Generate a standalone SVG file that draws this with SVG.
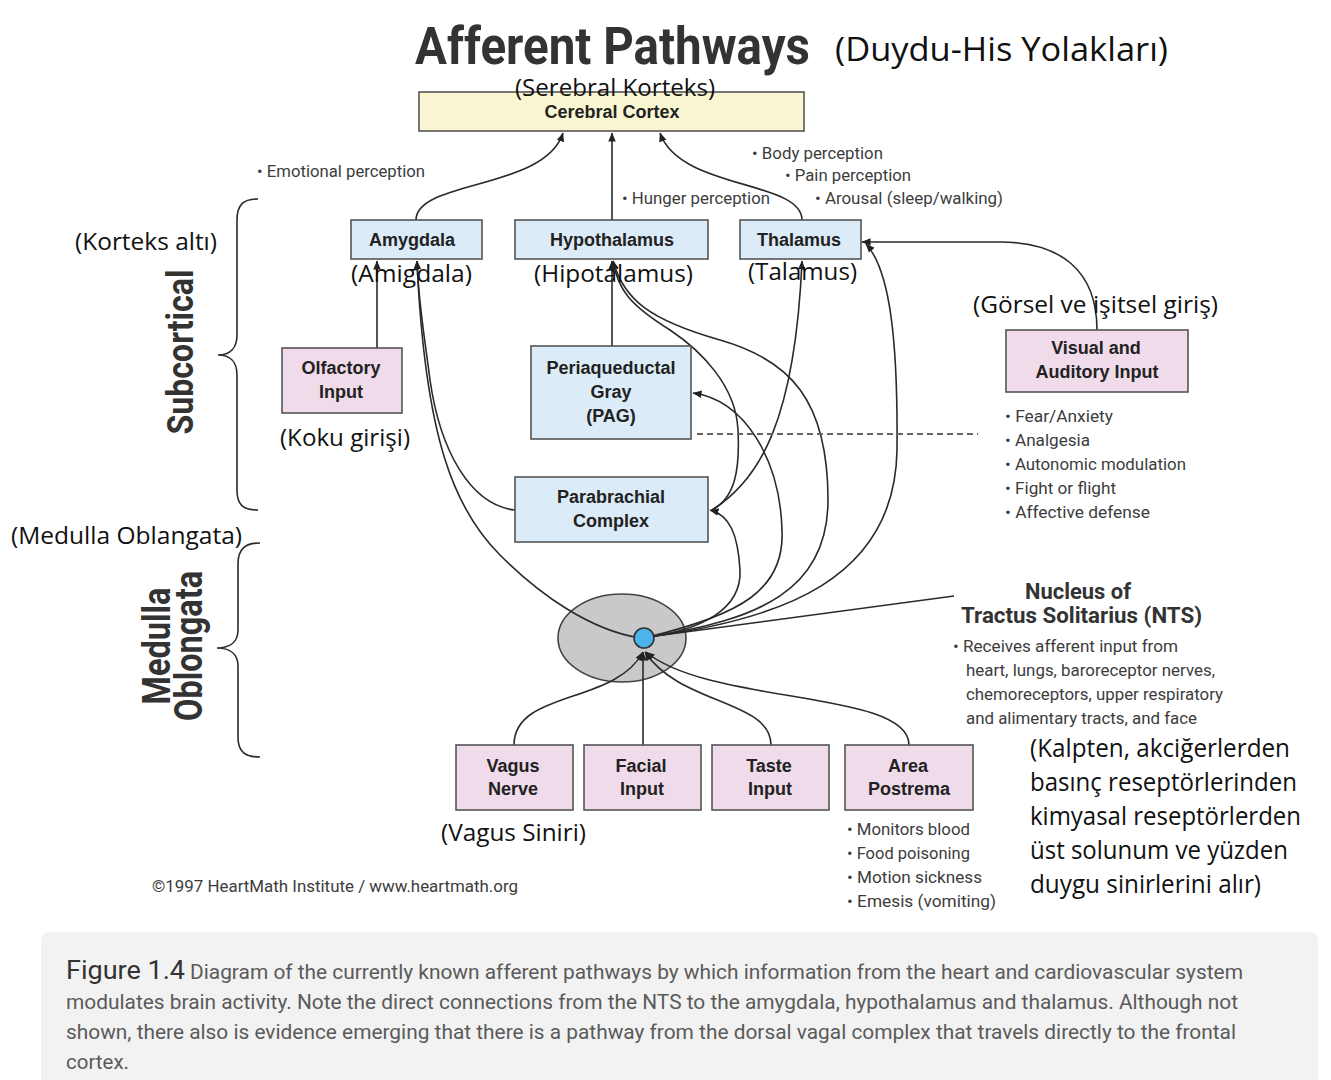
<svg xmlns="http://www.w3.org/2000/svg" width="1331" height="1080" viewBox="0 0 1331 1080">
<defs>
<marker id="ah" viewBox="0 0 10 10" refX="9.5" refY="5" markerWidth="9" markerHeight="9" orient="auto" markerUnits="userSpaceOnUse"><path d="M0,0.8 L10,5 L0,9.2 z" fill="#222"/></marker>
<style>
.blue{fill:#dcebf8;stroke:#555;stroke-width:1.6}
.pink{fill:#f0dbea;stroke:#555;stroke-width:1.6}
.nl{font-family:"Liberation Sans",Arial,sans-serif;font-weight:bold;font-size:18px;fill:#222;text-anchor:middle}
.tr{font-family:"Open Sans","Noto Sans",sans-serif;font-size:24px;fill:#111}
.g{font-family:Roboto,"Liberation Sans",sans-serif;font-size:17px;fill:#3c3c3c}
.c{fill:none;stroke:#2a2a2a;stroke-width:1.6}
.cap{font-family:Roboto,"Liberation Sans",sans-serif;font-size:19.5px;fill:#5a5a5a}
</style>
</defs>
<rect width="1331" height="1080" fill="#fff"/>

<!-- Title -->
<text x="415" y="64" font-family="Roboto,'Liberation Sans',sans-serif" font-weight="bold" font-size="51" fill="#333" textLength="395" lengthAdjust="spacingAndGlyphs">Afferent Pathways</text>
<text x="835" y="61" font-family="'Open Sans','Noto Sans',sans-serif" font-size="33" fill="#111" textLength="333" lengthAdjust="spacingAndGlyphs">(Duydu-His Yolakları)</text>

<!-- Side brackets and labels -->
<g id="side">
<path class="c" stroke="#555" d="M258,199 C243,199 237,205 237,220 L237,335 C237,348 230,355 218,355 C230,355 237,362 237,375 L237,490 C237,505 243,510 258,510"/>
<path class="c" stroke="#555" d="M260,543 C245,543 238,549 238,564 L238,630 C238,642 230,648 217,648 C230,648 238,654 238,666 L238,737 C238,752 245,757 260,757"/>
<text transform="translate(193,352) rotate(-90)" text-anchor="middle" font-family="Roboto,'Liberation Sans',sans-serif" font-weight="bold" font-size="36" fill="#333" textLength="165" lengthAdjust="spacingAndGlyphs">Subcortical</text>
<text transform="translate(170,646) rotate(-90)" text-anchor="middle" font-family="Roboto,'Liberation Sans',sans-serif" font-weight="bold" font-size="38" fill="#333" textLength="117" lengthAdjust="spacingAndGlyphs">Medulla</text>
<text transform="translate(202,646) rotate(-90)" text-anchor="middle" font-family="Roboto,'Liberation Sans',sans-serif" font-weight="bold" font-size="38" fill="#333" textLength="150" lengthAdjust="spacingAndGlyphs">Oblongata</text>
</g>

<!-- NTS ellipse (background) -->
<g id="nts">
<ellipse cx="622" cy="638" rx="64" ry="44" fill="#c9c9c9" stroke="#444" stroke-width="1.6"/>
<text x="1078" y="599" text-anchor="middle" font-family="Roboto,'Liberation Sans',sans-serif" font-weight="bold" font-size="22" fill="#333" textLength="106" lengthAdjust="spacingAndGlyphs">Nucleus of</text>
<text x="961" y="623" font-family="Roboto,'Liberation Sans',sans-serif" font-weight="bold" font-size="22" fill="#333" textLength="241" lengthAdjust="spacingAndGlyphs">Tractus Solitarius (NTS)</text>
<text class="g" x="953" y="652" textLength="225" lengthAdjust="spacingAndGlyphs">• Receives afferent input from</text>
<text class="g" x="966" y="676" textLength="249" lengthAdjust="spacingAndGlyphs">heart, lungs, baroreceptor nerves,</text>
<text class="g" x="966" y="700" textLength="257" lengthAdjust="spacingAndGlyphs">chemoreceptors, upper respiratory</text>
<text class="g" x="966" y="724" textLength="231" lengthAdjust="spacingAndGlyphs">and alimentary tracts, and face</text>
</g>

<!-- Connectors -->
<g id="connectors">
<path class="c" d="M416,220 C416,180 545,190 563,133" marker-end="url(#ah)"/>
<path class="c" d="M612,220 L612,133" marker-end="url(#ah)"/>
<path class="c" d="M802,220 C802,180 680,190 660,133" marker-end="url(#ah)"/>
<path class="c" d="M377,348 L377,261" marker-end="url(#ah)"/>
<path class="c" d="M515,510 C470,505 440,450 430,380 C425,340 418,300 417,261" marker-end="url(#ah)"/>
<path class="c" d="M640,638 C590,630 540,595 500,555 C455,510 425,440 417,261" marker-end="url(#ah)"/>
<path class="c" d="M612,346 L612,261" marker-end="url(#ah)"/>
<path class="c" d="M712,510 C735,498 740,470 738,430 C736,385 700,350 670,330 C630,305 618,290 613,261" marker-end="url(#ah)"/>
<path class="c" d="M648,637 C760,620 828,590 828,500 C828,400 790,360 720,340 C650,320 624,300 613,261" marker-end="url(#ah)"/>
<path class="c" d="M712,510 C760,480 795,420 802,261" marker-end="url(#ah)"/>
<path class="c" d="M648,637 C700,630 742,610 740,570 C738,535 730,515 710,510" marker-end="url(#ah)"/>
<path class="c" d="M648,637 C740,615 785,590 782,530 C780,460 745,400 693,393" marker-end="url(#ah)"/>
<path class="c" d="M648,637 C780,620 895,580 897,450 C898,340 890,270 866,244" marker-end="url(#ah)"/>
<path class="c" d="M1097,330 C1097,270 1060,242 1000,242 L862,242" marker-end="url(#ah)"/>
<path class="c" d="M648,637 L954,596"/>
<path d="M697,434 L978,434" fill="none" stroke="#666" stroke-width="1.8" stroke-dasharray="6,4"/>
<path class="c" d="M514,745 C514,690 615,705 643,652" marker-end="url(#ah)"/>
<path class="c" d="M643,745 L643,652" marker-end="url(#ah)"/>
<path class="c" d="M771,745 C771,700 680,705 645,652" marker-end="url(#ah)"/>
<path class="c" d="M909,745 C909,690 710,705 646,652" marker-end="url(#ah)"/>
</g>

<g id="nts-dot">
<circle cx="644" cy="638" r="10" fill="#4cb4ea" stroke="#333" stroke-width="1.6"/>
</g>

<!-- Nodes -->
<g id="cortex">
<rect x="419" y="92" width="385" height="39" fill="#fbf6d2" stroke="#555" stroke-width="1.6"/>
<text class="nl" x="612" y="118">Cerebral Cortex</text>
</g>
<g id="amygdala">
<rect class="blue" x="351" y="220" width="131" height="39"/>
<text class="nl" x="412" y="246">Amygdala</text>
</g>
<g id="hypothalamus">
<rect class="blue" x="515" y="220" width="193" height="39"/>
<text class="nl" x="612" y="246">Hypothalamus</text>
</g>
<g id="thalamus">
<rect class="blue" x="740" y="220" width="121" height="39"/>
<text class="nl" x="799" y="246">Thalamus</text>
</g>
<g id="olfactory">
<rect class="pink" x="282" y="348" width="120" height="65"/>
<text class="nl" x="341" y="374">Olfactory</text>
<text class="nl" x="341" y="398">Input</text>
</g>
<g id="pag">
<rect class="blue" x="531" y="346" width="160" height="93"/>
<text class="nl" x="611" y="374">Periaqueductal</text>
<text class="nl" x="611" y="398">Gray</text>
<text class="nl" x="611" y="422">(PAG)</text>
</g>
<g id="parabrachial">
<rect class="blue" x="515" y="477" width="193" height="65"/>
<text class="nl" x="611" y="503">Parabrachial</text>
<text class="nl" x="611" y="527">Complex</text>
</g>
<g id="visual">
<rect class="pink" x="1006" y="330" width="182" height="62"/>
<text class="nl" x="1096" y="354">Visual and</text>
<text class="nl" x="1097" y="378">Auditory Input</text>
</g>
<g id="vagus">
<rect class="pink" x="456" y="745" width="117" height="65"/>
<text class="nl" x="513" y="772">Vagus</text>
<text class="nl" x="513" y="795">Nerve</text>
</g>
<g id="facial">
<rect class="pink" x="584" y="745" width="117" height="65"/>
<text class="nl" x="641" y="772">Facial</text>
<text class="nl" x="642" y="795">Input</text>
</g>
<g id="taste">
<rect class="pink" x="712" y="745" width="117" height="65"/>
<text class="nl" x="769" y="772">Taste</text>
<text class="nl" x="770" y="795">Input</text>
</g>
<g id="postrema">
<rect class="pink" x="845" y="745" width="128" height="65"/>
<text class="nl" x="908" y="772">Area</text>
<text class="nl" x="909" y="795">Postrema</text>
</g>

<!-- Gray annotations -->
<g id="notes">
<text class="g" x="257" y="177" textLength="168" lengthAdjust="spacingAndGlyphs">• Emotional perception</text>
<text class="g" x="752" y="159" textLength="131" lengthAdjust="spacingAndGlyphs">• Body perception</text>
<text class="g" x="785" y="181" textLength="126" lengthAdjust="spacingAndGlyphs">• Pain perception</text>
<text class="g" x="815" y="204" textLength="188" lengthAdjust="spacingAndGlyphs">• Arousal (sleep/walking)</text>
<text class="g" x="622" y="204" textLength="148" lengthAdjust="spacingAndGlyphs">• Hunger perception</text>
<text class="g" x="1005" y="422" textLength="108" lengthAdjust="spacingAndGlyphs">• Fear/Anxiety</text>
<text class="g" x="1005" y="446" textLength="85" lengthAdjust="spacingAndGlyphs">• Analgesia</text>
<text class="g" x="1005" y="470" textLength="181" lengthAdjust="spacingAndGlyphs">• Autonomic modulation</text>
<text class="g" x="1005" y="494" textLength="111" lengthAdjust="spacingAndGlyphs">• Fight or flight</text>
<text class="g" x="1005" y="518" textLength="145" lengthAdjust="spacingAndGlyphs">• Affective defense</text>
<text class="g" x="847" y="835" textLength="123" lengthAdjust="spacingAndGlyphs">• Monitors blood</text>
<text class="g" x="847" y="859" textLength="123" lengthAdjust="spacingAndGlyphs">• Food poisoning</text>
<text class="g" x="847" y="883" textLength="135" lengthAdjust="spacingAndGlyphs">• Motion sickness</text>
<text class="g" x="847" y="907" textLength="149" lengthAdjust="spacingAndGlyphs">• Emesis (vomiting)</text>
<text class="g" x="152" y="892" textLength="366" lengthAdjust="spacingAndGlyphs">©1997 HeartMath Institute / www.heartmath.org</text>
</g>

<!-- Turkish annotations -->
<g id="turkish">
<text class="tr" x="515" y="96" font-size="23" textLength="200" lengthAdjust="spacingAndGlyphs">(Serebral Korteks)</text>
<text class="tr" x="75" y="250" textLength="142" lengthAdjust="spacingAndGlyphs">(Korteks altı)</text>
<text class="tr" x="351" y="282" textLength="121" lengthAdjust="spacingAndGlyphs">(Amigdala)</text>
<text class="tr" x="534" y="282" textLength="159" lengthAdjust="spacingAndGlyphs">(Hipotalamus)</text>
<text class="tr" x="748" y="280" textLength="109" lengthAdjust="spacingAndGlyphs">(Talamus)</text>
<text class="tr" x="973" y="313" textLength="245" lengthAdjust="spacingAndGlyphs">(Görsel ve işitsel giriş)</text>
<text class="tr" x="280" y="446" textLength="130" lengthAdjust="spacingAndGlyphs">(Koku girişi)</text>
<text class="tr" x="11" y="544" textLength="231" lengthAdjust="spacingAndGlyphs">(Medulla Oblangata)</text>
<text class="tr" x="441" y="841" textLength="145" lengthAdjust="spacingAndGlyphs">(Vagus Siniri)</text>
<g font-family="'Open Sans','Noto Sans',sans-serif" font-size="26" fill="#111">
<text x="1030" y="757" textLength="260" lengthAdjust="spacingAndGlyphs">(Kalpten, akciğerlerden</text>
<text x="1030" y="791" textLength="267" lengthAdjust="spacingAndGlyphs">basınç reseptörlerinden</text>
<text x="1030" y="825" textLength="271" lengthAdjust="spacingAndGlyphs">kimyasal reseptörlerden</text>
<text x="1030" y="859" textLength="258" lengthAdjust="spacingAndGlyphs">üst solunum ve yüzden</text>
<text x="1030" y="893" textLength="231" lengthAdjust="spacingAndGlyphs">duygu sinirlerini alır)</text>
</g>
</g>

<!-- Caption -->
<g id="caption">
<rect x="41" y="932" width="1277" height="160" rx="8" fill="#f2f2f2"/>
<text x="66" y="979" font-family="Roboto,'Liberation Sans',sans-serif" font-size="25" fill="#333" textLength="119" lengthAdjust="spacingAndGlyphs">Figure 1.4</text>
<text class="cap" x="190" y="979" textLength="1053" lengthAdjust="spacingAndGlyphs">Diagram of the currently known afferent pathways by which information from the heart and cardiovascular system</text>
<text class="cap" x="66" y="1009" textLength="1172" lengthAdjust="spacingAndGlyphs">modulates brain activity. Note the direct connections from the NTS to the amygdala, hypothalamus and thalamus. Although not</text>
<text class="cap" x="66" y="1039" textLength="1170" lengthAdjust="spacingAndGlyphs">shown, there also is evidence emerging that there is a pathway from the dorsal vagal complex that travels directly to the frontal</text>
<text class="cap" x="66" y="1069" textLength="63" lengthAdjust="spacingAndGlyphs">cortex.</text>
</g>
</svg>
